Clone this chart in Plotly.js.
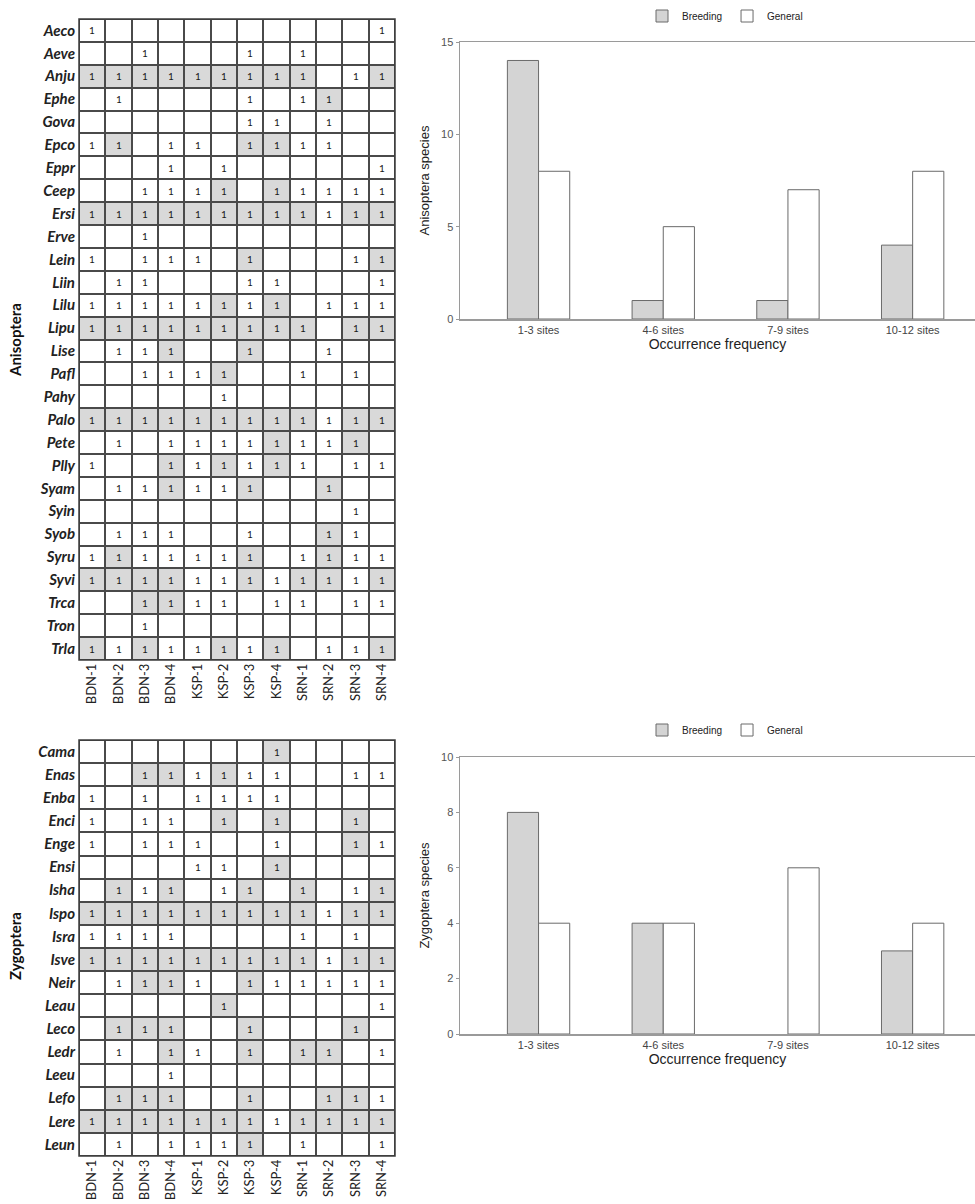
<!DOCTYPE html>
<html>
<head>
<meta charset="utf-8">
<script src="https://cdn.plot.ly/plotly-3.0.1.min.js"></script>
<style>html,body{margin:0;padding:0;background:#fff;}#chart{width:975px;height:1204px;}</style>
</head>
<body>
<div id="chart"></div>
<script>
// ---------- DATA ----------
const sites = ['BDN-1','BDN-2','BDN-3','BDN-4','KSP-1','KSP-2','KSP-3','KSP-4','SRN-1','SRN-2','SRN-3','SRN-4'];

// 0 = not recorded, 1 = recorded, 2 = recorded with breeding evidence (grey cell)
const anisopteraSpecies = ['Aeco','Aeve','Anju','Ephe','Gova','Epco','Eppr','Ceep','Ersi','Erve','Lein','Liin','Lilu','Lipu','Lise','Pafl','Pahy','Palo','Pete','Plly','Syam','Syin','Syob','Syru','Syvi','Trca','Tron','Trla'];
const anisopteraRecords = [
  [1,0,0,0,0,0,0,0,0,0,0,1],
  [0,0,1,0,0,0,1,0,1,0,0,0],
  [2,2,2,2,2,2,2,2,2,0,1,2],
  [0,1,0,0,0,0,1,0,1,2,0,0],
  [0,0,0,0,0,0,1,1,0,1,0,0],
  [1,2,0,1,1,0,2,2,1,1,0,0],
  [0,0,0,1,0,1,0,0,0,0,0,1],
  [0,0,1,1,1,2,0,2,1,1,1,1],
  [2,2,2,2,2,2,2,2,2,1,2,2],
  [0,0,1,0,0,0,0,0,0,0,0,0],
  [1,0,1,1,1,0,2,0,0,0,1,2],
  [0,1,1,0,0,0,1,1,0,0,0,1],
  [1,1,1,1,1,2,1,2,0,1,1,1],
  [2,2,2,2,2,2,2,2,2,0,2,2],
  [0,1,1,2,0,0,2,0,0,1,0,0],
  [0,0,1,1,1,2,0,0,1,0,1,0],
  [0,0,0,0,0,1,0,0,0,0,0,0],
  [2,2,2,2,2,2,2,2,2,1,2,2],
  [0,1,0,1,1,1,1,2,1,1,2,0],
  [1,0,0,2,1,2,1,2,1,0,1,1],
  [0,1,1,2,1,1,2,0,0,2,0,0],
  [0,0,0,0,0,0,0,0,0,0,1,0],
  [0,1,1,1,0,0,1,0,0,2,1,0],
  [1,2,1,1,1,1,2,0,1,2,1,1],
  [2,2,2,2,1,1,2,1,2,2,1,2],
  [0,0,2,2,1,1,0,1,1,0,1,1],
  [0,0,1,0,0,0,0,0,0,0,0,0],
  [2,1,2,1,1,2,1,2,0,1,1,2]
];

const zygopteraSpecies = ['Cama','Enas','Enba','Enci','Enge','Ensi','Isha','Ispo','Isra','Isve','Neir','Leau','Leco','Ledr','Leeu','Lefo','Lere','Leun'];
const zygopteraRecords = [
  [0,0,0,0,0,0,0,2,0,0,0,0],
  [0,0,2,2,1,2,1,1,0,0,1,1],
  [1,0,1,0,1,1,1,1,0,0,0,0],
  [1,0,1,1,0,2,0,2,0,0,2,0],
  [1,0,1,1,1,0,0,1,0,0,2,1],
  [0,0,0,0,1,1,0,2,0,0,0,0],
  [0,2,1,2,0,1,2,0,2,0,1,2],
  [2,2,2,2,2,2,2,2,2,1,2,2],
  [1,1,1,1,0,0,0,0,1,0,1,0],
  [2,2,2,2,2,2,2,2,2,1,2,2],
  [0,1,2,2,1,0,2,1,1,1,1,1],
  [0,0,0,0,0,2,0,0,0,0,0,1],
  [0,2,2,2,0,0,2,0,0,0,2,0],
  [0,1,0,2,1,0,2,0,2,2,0,1],
  [0,0,0,1,0,0,0,0,0,0,0,0],
  [0,2,2,2,0,0,2,0,0,2,2,1],
  [2,2,2,2,2,2,2,1,2,2,2,2],
  [0,1,0,1,1,1,2,0,1,0,0,1]
];

const freqClasses = ['1-3 sites','4-6 sites','7-9 sites','10-12 sites'];
const anisopteraBreeding = [14, 1, 1, 4];
const anisopteraGeneral  = [8, 5, 7, 8];
const zygopteraBreeding  = [8, 4, 0, 3];
const zygopteraGeneral   = [4, 4, 6, 4];

// ---------- HELPERS ----------
const W = 975, H = 1204;
const px = v => v / W;
const py = v => 1 - v / H;

const gridFont = 'Lato, "Open Sans", sans-serif';
const barFont = '"Liberation Sans", Arial, sans-serif';

function gridTrace(species, records, xa, ya) {
  return {
    type: 'heatmap',
    x: sites, y: species, z: records,
    text: records.map(r => r.map(v => v ? '1' : '')),
    texttemplate: '%{text}',
    textfont: {family: gridFont, size: 10, color: '#1a1a1a'},
    colorscale: [[0, '#ffffff'], [0.5, '#ffffff'], [0.75, '#d9d9d9'], [1, '#d9d9d9']],
    zmin: 0, zmax: 2, showscale: false,
    xgap: 2, ygap: 2,
    hoverinfo: 'skip',
    xaxis: xa, yaxis: ya
  };
}

function barTraces(breeding, general, xa, ya, lg) {
  const outline = vals => vals.map(v => v > 0 ? 1 : 0);
  return [
    {type: 'bar', name: 'Breeding', x: freqClasses, y: breeding, xaxis: xa, yaxis: ya, legend: lg,
     marker: {color: '#d4d4d4', line: {color: '#6a6a6a', width: outline(breeding)}}},
    {type: 'bar', name: 'General', x: freqClasses, y: general, xaxis: xa, yaxis: ya, legend: lg,
     marker: {color: '#ffffff', line: {color: '#6a6a6a', width: outline(general)}}}
  ];
}

const data = [
  gridTrace(anisopteraSpecies, anisopteraRecords, 'x', 'y'),
  gridTrace(zygopteraSpecies, zygopteraRecords, 'x2', 'y2'),
  ...barTraces(anisopteraBreeding, anisopteraGeneral, 'x3', 'y3', 'legend'),
  ...barTraces(zygopteraBreeding, zygopteraGeneral, 'x4', 'y4', 'legend2')
];

const gridX = (anchor, dom) => ({
  domain: dom, anchor: anchor, type: 'category',
  tickangle: -90, tickfont: {family: gridFont, size: 13, color: '#222'},
  showgrid: false, zeroline: false, showline: false, ticks: '', fixedrange: true
});
const gridY = (anchor, dom) => ({
  domain: dom, anchor: anchor, type: 'category', autorange: 'reversed',
  tickfont: {family: gridFont, size: 15, color: '#222', style: 'italic', weight: 'bold'},
  showgrid: false, zeroline: false, showline: false, ticks: '', ticklabelstandoff: 3, fixedrange: true
});
const barX = (anchor, dom) => ({
  domain: dom, anchor: anchor, type: 'category', range: [-0.63, 3.5],
  showline: true, mirror: true, linecolor: '#9a9a9a', linewidth: 1.5,
  ticks: '', showgrid: false, zeroline: false,
  tickfont: {family: barFont, size: 11, color: '#444'},
  title: {text: 'Occurrence frequency', font: {family: barFont, size: 14, color: '#222'}, standoff: 2}
});
const barY = (anchor, dom, maxV, dt, title) => ({
  domain: dom, anchor: anchor, range: [0, maxV], dtick: dt,
  showline: true, linecolor: '#9a9a9a', linewidth: 1.5,
  ticks: 'outside', ticklen: 3, tickcolor: '#9a9a9a',
  showgrid: false, zeroline: false,
  tickfont: {family: barFont, size: 11, color: '#555'},
  title: {text: title, font: {family: barFont, size: 13, color: '#222'}, standoff: 8}
});

const bgShape = (xa, ya) => ({
  type: 'rect', xref: xa + ' domain', yref: ya + ' domain', x0: 0, x1: 1, y0: 0, y1: 1,
  fillcolor: '#4a4a4a', line: {color: '#3c3c3c', width: 1.5}, layer: 'below'
});

const layout = {
  width: W, height: H,
  margin: {l: 0, r: 0, t: 0, b: 0},
  paper_bgcolor: '#fff', plot_bgcolor: '#fff',
  showlegend: true,
  barmode: 'group', bargap: 0.5, bargroupgap: 0,
  xaxis: gridX('y', [px(79), px(395)]),
  yaxis: gridY('x', [py(660), py(19)]),
  xaxis2: gridX('y2', [px(79), px(395)]),
  yaxis2: gridY('x2', [py(1156), py(740)]),
  xaxis3: barX('y3', [px(460), 1]),
  yaxis3: barY('x3', [py(319), py(42)], 15, 5, 'Anisoptera species'),
  xaxis4: barX('y4', [px(460), 1]),
  yaxis4: barY('x4', [py(1034), py(757)], 10, 2, 'Zygoptera species'),
  legend: {orientation: 'h', x: px(725), xanchor: 'center', y: py(16), yanchor: 'middle',
           font: {family: barFont, size: 10, color: '#222'}, itemwidth: 30, tracegroupgap: 0, bgcolor: 'rgba(0,0,0,0)'},
  legend2: {orientation: 'h', x: px(725), xanchor: 'center', y: py(730), yanchor: 'middle',
           font: {family: barFont, size: 10, color: '#222'}, itemwidth: 30, tracegroupgap: 0, bgcolor: 'rgba(0,0,0,0)'},
  shapes: [bgShape('x', 'y'), bgShape('x2', 'y2')],
  annotations: [
    {text: '<b>Anisoptera</b>', xref: 'paper', yref: 'paper', x: px(15), y: py(340), textangle: -90,
     showarrow: false, font: {family: gridFont, size: 15, color: '#111'}, xanchor: 'center', yanchor: 'middle'},
    {text: '<b>Zygoptera</b>', xref: 'paper', yref: 'paper', x: px(15), y: py(946), textangle: -90,
     showarrow: false, font: {family: gridFont, size: 15, color: '#111'}, xanchor: 'center', yanchor: 'middle'}
  ]
};

Plotly.newPlot('chart', data, layout, {displayModeBar: false, staticPlot: true});
</script>
</body>
</html>
